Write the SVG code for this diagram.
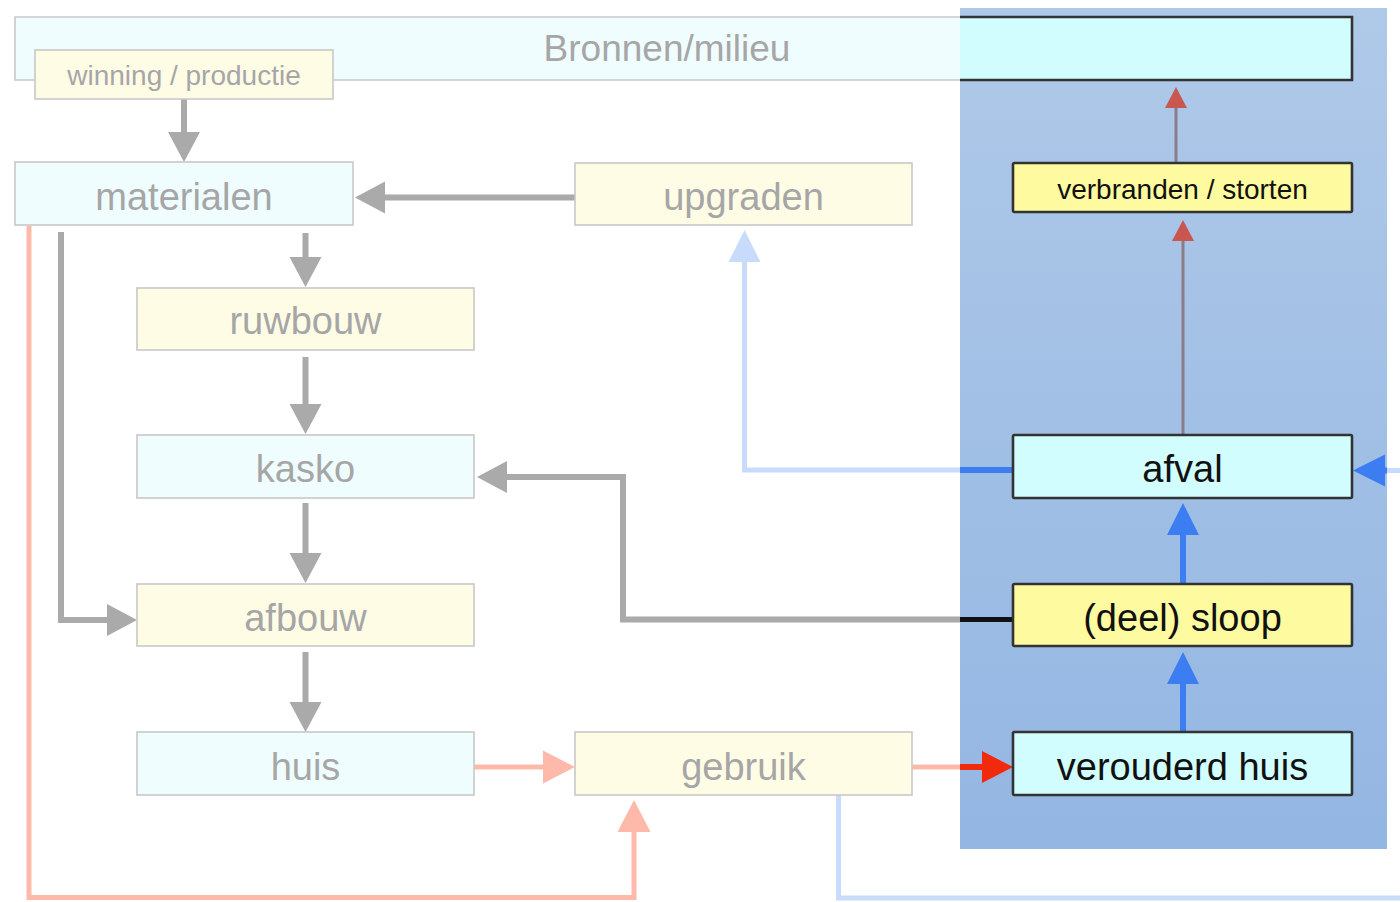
<svg xmlns="http://www.w3.org/2000/svg" width="1400" height="902" viewBox="0 0 1400 902">
<defs>
<linearGradient id="panelGrad" x1="0" y1="0" x2="0" y2="1">
<stop offset="0" stop-color="#afc9e8"/>
<stop offset="1" stop-color="#93b6e2"/>
</linearGradient>
<marker id="hGray" markerUnits="userSpaceOnUse" markerWidth="30" markerHeight="32" refX="0" refY="16" orient="auto" overflow="visible"><path d="M0,0 L30,16 L0,32 Z" fill="#aaaaaa"/></marker>
<marker id="hPink" markerUnits="userSpaceOnUse" markerWidth="32" markerHeight="33" refX="0" refY="16.5" orient="auto" overflow="visible"><path d="M0,0 L32,16.5 L0,33 Z" fill="#ffb9ab"/></marker>
<marker id="hFadeBlue" markerUnits="userSpaceOnUse" markerWidth="32" markerHeight="32" refX="0" refY="16" orient="auto" overflow="visible"><path d="M0,0 L32,16 L0,32 Z" fill="#c9dbfb"/></marker>
<marker id="hBlue" markerUnits="userSpaceOnUse" markerWidth="32" markerHeight="32" refX="0" refY="16" orient="auto" overflow="visible"><path d="M0,0 L32,16 L0,32 Z" fill="#3d7df2"/></marker>
<marker id="hRed" markerUnits="userSpaceOnUse" markerWidth="31" markerHeight="32" refX="0" refY="16" orient="auto" overflow="visible"><path d="M0,0 L31,16 L0,32 Z" fill="#f2290c"/></marker>
<marker id="hRedSmall" markerUnits="userSpaceOnUse" markerWidth="21" markerHeight="22" refX="0" refY="11" orient="auto" overflow="visible"><path d="M0,0 L21,11 L0,22 Z" fill="#c9574f"/></marker>
</defs>
<style>
.fade rect, .fade path.box { stroke: #c8c8c8; stroke-width: 1.6; }
.fc { fill: #f0fdff; }
.fy { fill: #fffce6; }
.bc { fill: #d2fdff; }
.by { fill: #fdfaa0; }
.bright rect, .bright path.box { stroke: #333333; stroke-width: 2.6; }
.ft { font-family: "Liberation Sans", Arial, sans-serif; fill: #a6a6a6; text-anchor: middle; }
.bt { font-family: "Liberation Sans", Arial, sans-serif; fill: #111111; text-anchor: middle; }
.lg { font-size: 38px; }
.sm { font-size: 28px; }
.gray { stroke: #aaaaaa; stroke-width: 6; fill: none; }
.pink { stroke: #ffb9ab; stroke-width: 5; fill: none; }
.fblue { stroke: #c9dbfb; stroke-width: 5; fill: none; }
.blue { stroke: #3d7df2; stroke-width: 6; fill: none; }
.black { stroke: #111111; stroke-width: 5; fill: none; }
.red { stroke: #f2290c; stroke-width: 6; fill: none; }
.mauve { stroke: #8c7b88; stroke-width: 3; fill: none; }
</style>
<rect x="0" y="0" width="1400" height="902" fill="#ffffff"/>
<rect id="panel" x="960" y="8" width="427" height="841" fill="url(#panelGrad)"/>

<g id="connectors">
<path class="gray" d="M184,99 V132" marker-end="url(#hGray)"/>
<path class="gray" d="M575,197.5 H385" marker-end="url(#hGray)"/>
<path class="gray" d="M305.5,233 V257" marker-end="url(#hGray)"/>
<path class="gray" d="M305.5,357 V404" marker-end="url(#hGray)"/>
<path class="gray" d="M305.5,503 V553" marker-end="url(#hGray)"/>
<path class="gray" d="M305.5,652 V702" marker-end="url(#hGray)"/>
<path class="gray" d="M61,232 V620 H107" marker-end="url(#hGray)"/>
<path class="gray" d="M960,619.5 H623 V477 H507" marker-end="url(#hGray)"/>
<path class="black" d="M1013,619.5 H960"/>
<path class="pink" d="M474,767 H543" marker-end="url(#hPink)"/>
<path class="pink" d="M29,226 V897.5 H634 V832" marker-end="url(#hPink)"/>
<path class="pink" d="M912,767 H960"/>
<path class="red" d="M960,767 H982" marker-end="url(#hRed)"/>
<path class="blue" d="M1013,470 H960"/>
<path class="fblue" d="M960,470 H744.5 V262" marker-end="url(#hFadeBlue)"/>
<path class="fblue" d="M838.5,795 V898 H1410 V470.5 H1387"/>
<path class="blue" d="M1387,470.5 H1385" marker-end="url(#hBlue)"/>
<path class="blue" d="M1183,732 V684" marker-end="url(#hBlue)"/>
<path class="blue" d="M1183,584 V535" marker-end="url(#hBlue)"/>
<path class="mauve" d="M1183,435 V241" marker-end="url(#hRedSmall)"/>
<path class="mauve" d="M1176,163 V108" marker-end="url(#hRedSmall)"/>
</g>

<g id="node-bronnen">
<g class="fade">
<rect x="15" y="17" width="945" height="63" class="fc" style="stroke:none"/>
<path class="box" d="M960,17 H15 V80 H960" fill="none"/>
</g>
<g class="bright">
<rect x="960" y="17" width="392" height="63" class="bc" style="stroke:none"/>
<path class="box" d="M960,17 H1352 V80 H960" fill="none"/>
</g>
<text class="ft" x="667" y="61" font-size="37">Bronnen/milieu</text>
</g>

<g id="node-winning" class="fade">
<rect x="35" y="50" width="298" height="49" class="fy"/>
<text class="ft sm" x="184" y="85">winning / productie</text>
</g>

<g id="node-materialen" class="fade">
<rect x="15" y="162" width="338" height="63" class="fc"/>
<text class="ft lg" x="184" y="210">materialen</text>
</g>

<g id="node-upgraden" class="fade">
<rect x="575" y="163" width="337" height="62" class="fy"/>
<text class="ft lg" x="743.5" y="210">upgraden</text>
</g>

<g id="node-ruwbouw" class="fade">
<rect x="137" y="288" width="337" height="62" class="fy"/>
<text class="ft lg" x="305.5" y="334">ruwbouw</text>
</g>

<g id="node-kasko" class="fade">
<rect x="137" y="435" width="337" height="63" class="fc"/>
<text class="ft lg" x="305.5" y="482">kasko</text>
</g>

<g id="node-afbouw" class="fade">
<rect x="137" y="584" width="337" height="62" class="fy"/>
<text class="ft lg" x="305.5" y="631">afbouw</text>
</g>

<g id="node-huis" class="fade">
<rect x="137" y="732" width="337" height="63" class="fc"/>
<text class="ft lg" x="305.5" y="780">huis</text>
</g>

<g id="node-gebruik" class="fade">
<rect x="575" y="732" width="337" height="63" class="fy"/>
<text class="ft lg" x="743.5" y="780">gebruik</text>
</g>

<g id="node-verbranden" class="bright">
<rect x="1013" y="163" width="339" height="49" rx="1.5" class="by"/>
<text class="bt sm" x="1182.5" y="199">verbranden / storten</text>
</g>

<g id="node-afval" class="bright">
<rect x="1013" y="435" width="339" height="63" rx="1.5" class="bc"/>
<text class="bt lg" x="1182.5" y="482">afval</text>
</g>

<g id="node-sloop" class="bright">
<rect x="1013" y="584" width="339" height="62" rx="1.5" class="by"/>
<text class="bt lg" x="1182.5" y="631">(deel) sloop</text>
</g>

<g id="node-verouderd" class="bright">
<rect x="1013" y="732" width="339" height="63" rx="1.5" class="bc"/>
<text class="bt lg" x="1182.5" y="780">verouderd huis</text>
</g>
</svg>
